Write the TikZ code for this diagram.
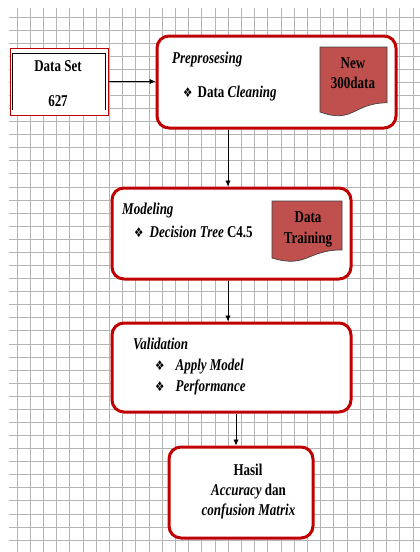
\documentclass[tikz,border=0pt]{standalone}
\usepackage{fontspec}
\usepackage{graphicx}
\setmainfont{Liberation Serif}
\newfontfamily\symfont{DejaVu Sans}
\usetikzlibrary{arrows.meta}
\definecolor{boxred}{HTML}{C00000}
\definecolor{docred}{HTML}{C0504D}
\definecolor{gridgray}{HTML}{B4B4B4}
\newcommand{\tall}[1]{\scalebox{1}[1.27]{#1}}
\tikzset{
  gridline/.style={draw=gridgray, line width=1pt},
  procbox/.style={draw=boxred, fill=white, line width=3pt, rounded corners=12pt, inner sep=0pt},
  databox/.style={draw=boxred, fill=white, line width=0.9pt, inner sep=0pt},
  innerline/.style={draw=black, line width=1pt},
  txt/.style={font=\fontsize{13}{20.5}\selectfont\bfseries, inner sep=0pt, text=black},
  arr/.style={draw=black, line width=0.9pt, -{Latex[length=6pt,width=5.5pt]}},
  docshape/.style={fill=docred, draw=black!75, line width=0.7pt},
}
\newcommand{\bul}{{\symfont\fontsize{10.5}{12}\selectfont ❖}}
\begin{document}
\begin{tikzpicture}[x=1pt,y=-1pt]
\useasboundingbox (0,0) rectangle (420,552);
\fill[white] (0,0) rectangle (420,552);
% grid
\foreach \i in {0,...,30} \draw[gridline] ({17+13.2*\i},8) -- ({17+13.2*\i},552);
\foreach \j in {0,...,40} \draw[gridline] (9,{17+13.08*\j}) -- (420,{17+13.08*\j});

% Data Set
\node[databox, minimum width=98pt, minimum height=67pt] (ds) at (59,81.5) {};
\draw[innerline] ([shift={(3pt,5pt)}]ds.south west) -- ([shift={(3pt,-6pt)}]ds.north west) -- ([shift={(-3pt,-6pt)}]ds.north east) -- ([shift={(-3pt,5pt)}]ds.south east);
\node[txt, anchor=base] (dsa) at (58,71) {\tall{Data Set}};
\node[txt, anchor=base] (dsb) at (58,106) {\tall{627}};

% Preprosesing
\node[procbox, minimum width=239pt, minimum height=92pt] (pre) at (276.5,82) {};
\node[txt, anchor=base west] (prea) at (172,63) {\tall{\itshape Preprosesing}};
\node[txt, anchor=base west] (preb) at (183,97) {\tall{\bul\hspace{5pt}Data \textit{Cleaning}}};
\draw[docshape] (320,47) -- (387,47) -- (387,102.8) .. controls (353.5,102.8) and (353.5,124.1) .. (320,112) -- cycle;
\node[txt, anchor=base] (newa) at (353,68) {\tall{New}};
\node[txt, anchor=base] (newb) at (353,88) {\tall{300data}};

% Modeling
\node[procbox, minimum width=239pt, minimum height=91pt] (mod) at (231.5,233.5) {};
\node[txt, anchor=base west] (moda) at (122,214) {\tall{\itshape Modeling}};
\node[txt, anchor=base west] (modb) at (134,237) {\tall{\bul\hspace{6pt}\textit{Decision Tree} C4.5}};
\draw[docshape] (272,201) -- (342,201) -- (342,249.9) .. controls (307,249.9) and (307,268.6) .. (272,258) -- cycle;
\node[txt, anchor=base] (dta) at (308,222) {\tall{Data}};
\node[txt, anchor=base] (dtb) at (308,243) {\tall{Training}};

% Validation
\node[procbox, minimum width=239pt, minimum height=89pt] (val) at (231.5,367.5) {};
\node[txt, anchor=base west] (vala) at (133,349) {\tall{\itshape Validation}};
\node[txt, anchor=base west] (valb) at (155,370) {\tall{\bul\hspace{11pt}\textit{Apply Model}}};
\node[txt, anchor=base west] (valc) at (155,391) {\tall{\bul\hspace{11pt}\textit{Performance}}};

% Hasil
\node[procbox, minimum width=144pt, minimum height=91pt] (has) at (241,492.5) {};
\node[txt, anchor=base] (hasa) at (248,475) {\tall{Hasil}};
\node[txt, anchor=base] (hasb) at (248.5,495) {\tall{\textit{Accuracy} dan}};
\node[txt, anchor=base] (hasc) at (248.5,515) {\tall{\textit{confusion Matrix}}};

% arrows
\draw[arr] (ds.east) -- (ds.east -| pre.west);
\draw[arr] ([xshift=-3.5pt]mod.north |- pre.south) -- ([xshift=-3.5pt]mod.north);
\draw[arr] ([xshift=-3.5pt]mod.south) -- ([xshift=-3.5pt]val.north);
\draw[arr] ([xshift=-5pt]has.north |- val.south) -- ([xshift=-5pt]has.north);
\end{tikzpicture}
\end{document}
